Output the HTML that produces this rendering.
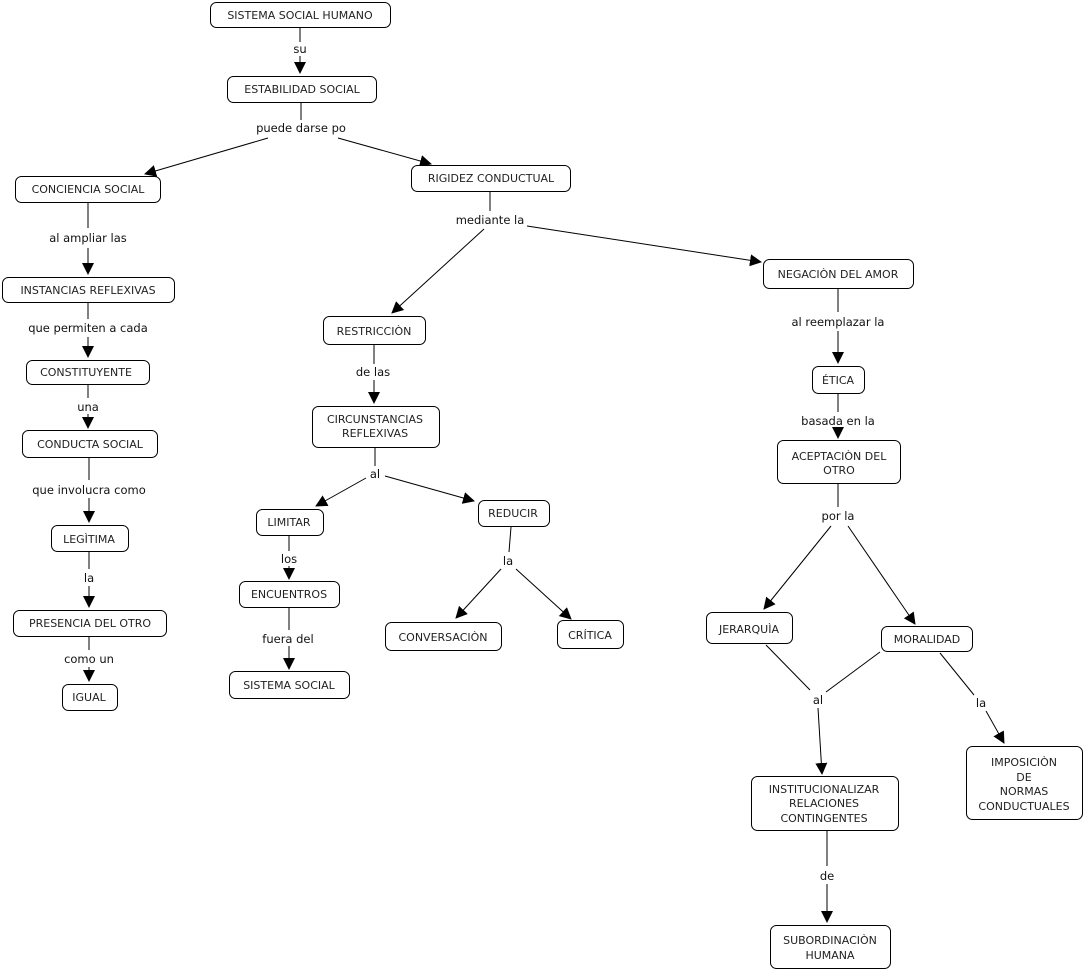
<!DOCTYPE html>
<html><head><meta charset="utf-8"><style>
html,body{margin:0;padding:0;background:#fff;}
svg{display:block;}
text{font-family:"DejaVu Sans","Liberation Sans",sans-serif;fill:#222;}
.n{font-size:11px;text-anchor:middle;}
.l{font-size:11.5px;text-anchor:middle;fill:#111;}
rect{fill:#fff;stroke:#000;stroke-width:1;}
line{stroke:#000;stroke-width:1;}
.a{marker-end:url(#ar);}
</style></head><body>
<svg width="1085" height="971" viewBox="0 0 1085 971" xmlns="http://www.w3.org/2000/svg">
<defs><marker id="ar" markerWidth="12" markerHeight="12" refX="11" refY="6" orient="auto" markerUnits="userSpaceOnUse"><path d="M0,0 L12,6 L0,12 z" fill="#000"/></marker></defs>

<!-- lines -->
<line x1="300" y1="28" x2="300" y2="42"/><line class="a" x1="300" y1="56" x2="300" y2="73"/>
<line x1="301" y1="103" x2="301" y2="120"/><line class="a" x1="268" y1="138" x2="145" y2="174"/><line class="a" x1="338" y1="138" x2="431" y2="164"/>
<line x1="88" y1="203" x2="88" y2="228"/><line class="a" x1="88" y1="248" x2="88" y2="274"/>
<line x1="88" y1="303" x2="88" y2="319"/><line class="a" x1="88" y1="337" x2="88" y2="357"/>
<line x1="88" y1="385" x2="88" y2="398"/><line class="a" x1="88" y1="414" x2="88" y2="428"/>
<line x1="89" y1="458" x2="89" y2="480"/><line class="a" x1="89" y1="498" x2="89" y2="522"/>
<line x1="89" y1="552" x2="89" y2="569"/><line class="a" x1="89" y1="586" x2="89" y2="607"/>
<line x1="89" y1="637" x2="89" y2="650"/><line class="a" x1="89" y1="667" x2="89" y2="681"/>
<line x1="490" y1="192" x2="490" y2="211"/><line class="a" x1="484" y1="229" x2="392" y2="313"/><line class="a" x1="527" y1="226" x2="761" y2="262"/>
<line x1="838" y1="289" x2="838" y2="312"/><line class="a" x1="838" y1="331" x2="838" y2="363"/>
<line x1="838" y1="394" x2="838" y2="412"/><line class="a" x1="838" y1="428" x2="838" y2="438"/>
<line x1="838" y1="484" x2="838" y2="507"/><line class="a" x1="831" y1="526" x2="764" y2="609"/><line class="a" x1="848" y1="526" x2="915" y2="624"/>
<line x1="374" y1="345" x2="374" y2="364"/><line class="a" x1="374" y1="380" x2="374" y2="403"/>
<line x1="375" y1="448" x2="375" y2="466"/><line class="a" x1="366" y1="478" x2="316" y2="506"/><line class="a" x1="385" y1="476" x2="474" y2="501"/>
<line x1="289" y1="536" x2="289" y2="551"/><line class="a" x1="289" y1="566" x2="289" y2="579"/>
<line x1="289" y1="608" x2="289" y2="630"/><line class="a" x1="289" y1="646" x2="289" y2="669"/>
<line x1="511" y1="527" x2="509" y2="552"/><line class="a" x1="501" y1="569" x2="456" y2="618"/><line class="a" x1="516" y1="569" x2="571" y2="619"/>
<line x1="766" y1="645" x2="810" y2="690"/><line x1="880" y1="652" x2="826" y2="692"/><line class="a" x1="818" y1="708" x2="822" y2="774"/>
<line x1="940" y1="653" x2="974" y2="695"/><line class="a" x1="986" y1="711" x2="1004" y2="743"/>
<line x1="827" y1="831" x2="827" y2="866"/><line class="a" x1="827" y1="884" x2="827" y2="922"/>

<!-- link labels -->
<text class="l" x="300" y="53">su</text>
<text class="l" x="301" y="132">puede darse po</text>
<text class="l" x="88" y="242">al ampliar las</text>
<text class="l" x="88" y="332">que permiten a cada</text>
<text class="l" x="88" y="411">una</text>
<text class="l" x="89" y="494">que involucra como</text>
<text class="l" x="89" y="582">la</text>
<text class="l" x="89" y="663">como un</text>
<text class="l" x="490" y="224">mediante la</text>
<text class="l" x="838" y="326">al reemplazar la</text>
<text class="l" x="838" y="425">basada en la</text>
<text class="l" x="838" y="520">por la</text>
<text class="l" x="373" y="376">de las</text>
<text class="l" x="375" y="478">al</text>
<text class="l" x="289" y="563">los</text>
<text class="l" x="288" y="643">fuera del</text>
<text class="l" x="508" y="565">la</text>
<text class="l" x="818" y="704">al</text>
<text class="l" x="981" y="707">la</text>
<text class="l" x="827" y="880">de</text>

<!-- nodes -->
<rect x="210.5" y="2.5" width="180" height="25" rx="6"/><text class="n" x="300" y="19">SISTEMA SOCIAL HUMANO</text>
<rect x="227.5" y="76.5" width="149" height="26" rx="6"/><text class="n" x="302" y="93">ESTABILIDAD SOCIAL</text>
<rect x="15.5" y="176.5" width="145" height="26" rx="6"/><text class="n" x="88" y="193">CONCIENCIA SOCIAL</text>
<rect x="411.5" y="165.5" width="159" height="26" rx="6"/><text class="n" x="491" y="182">RIGIDEZ CONDUCTUAL</text>
<rect x="2.5" y="277.5" width="172" height="25" rx="6"/><text class="n" x="88" y="294">INSTANCIAS REFLEXIVAS</text>
<rect x="26.5" y="360.5" width="123" height="24" rx="6"/><text class="n" x="86" y="376">CONSTITUYENTE</text>
<rect x="22.5" y="430.5" width="135" height="27" rx="6"/><text class="n" x="90" y="448">CONDUCTA SOCIAL</text>
<rect x="51.5" y="525.5" width="77" height="26" rx="6"/><text class="n" x="89" y="543">LEGÌTIMA</text>
<rect x="13.5" y="610.5" width="153" height="26" rx="6"/><text class="n" x="90" y="627">PRESENCIA DEL OTRO</text>
<rect x="62.5" y="684.5" width="55" height="26" rx="6"/><text class="n" x="89" y="701">IGUAL</text>
<rect x="763.5" y="259.5" width="150" height="29" rx="6"/><text class="n" x="838" y="278">NEGACIÒN DEL AMOR</text>
<rect x="323.5" y="316.5" width="102" height="28" rx="6"/><text class="n" x="374" y="335">RESTRICCIÒN</text>
<rect x="312.5" y="406.5" width="127" height="41" rx="6"/><text class="n" x="375" y="423">CIRCUNSTANCIAS</text><text class="n" x="375" y="437">REFLEXIVAS</text>
<rect x="256.5" y="509.5" width="67" height="26" rx="6"/><text class="n" x="289" y="526">LIMITAR</text>
<rect x="478.5" y="500.5" width="71" height="26" rx="6"/><text class="n" x="513" y="517">REDUCIR</text>
<rect x="239.5" y="581.5" width="100" height="26" rx="6"/><text class="n" x="289" y="598">ENCUENTROS</text>
<rect x="229.5" y="671.5" width="120" height="27" rx="6"/><text class="n" x="289" y="689">SISTEMA SOCIAL</text>
<rect x="385.5" y="622.5" width="116" height="28" rx="6"/><text class="n" x="443" y="641">CONVERSACIÒN</text>
<rect x="557.5" y="620.5" width="66" height="28" rx="6"/><text class="n" x="590" y="639">CRÍTICA</text>
<rect x="812.5" y="366.5" width="52" height="27" rx="6"/><text class="n" x="838" y="384">ÉTICA</text>
<rect x="777.5" y="440.5" width="123" height="43" rx="6"/><text class="n" x="839" y="460">ACEPTACIÒN DEL</text><text class="n" x="839" y="474">OTRO</text>
<rect x="706.5" y="612.5" width="86" height="31" rx="6"/><text class="n" x="749" y="633">JERARQUÌA</text>
<rect x="881.5" y="626.5" width="91" height="25" rx="6"/><text class="n" x="927" y="643">MORALIDAD</text>
<rect x="751.5" y="776.5" width="147" height="54" rx="6"/><text class="n" x="824" y="793">INSTITUCIONALIZAR</text><text class="n" x="824" y="807">RELACIONES</text><text class="n" x="824" y="822">CONTINGENTES</text>
<rect x="966.5" y="746.5" width="116" height="73" rx="6"/><text class="n" x="1024" y="766">IMPOSICIÒN</text><text class="n" x="1024" y="781">DE</text><text class="n" x="1024" y="795">NORMAS</text><text class="n" x="1024" y="810">CONDUCTUALES</text>
<rect x="770.5" y="925.5" width="120" height="43" rx="6"/><text class="n" x="830" y="944">SUBORDINACIÒN</text><text class="n" x="830" y="959">HUMANA</text>
</svg>
</body></html>
